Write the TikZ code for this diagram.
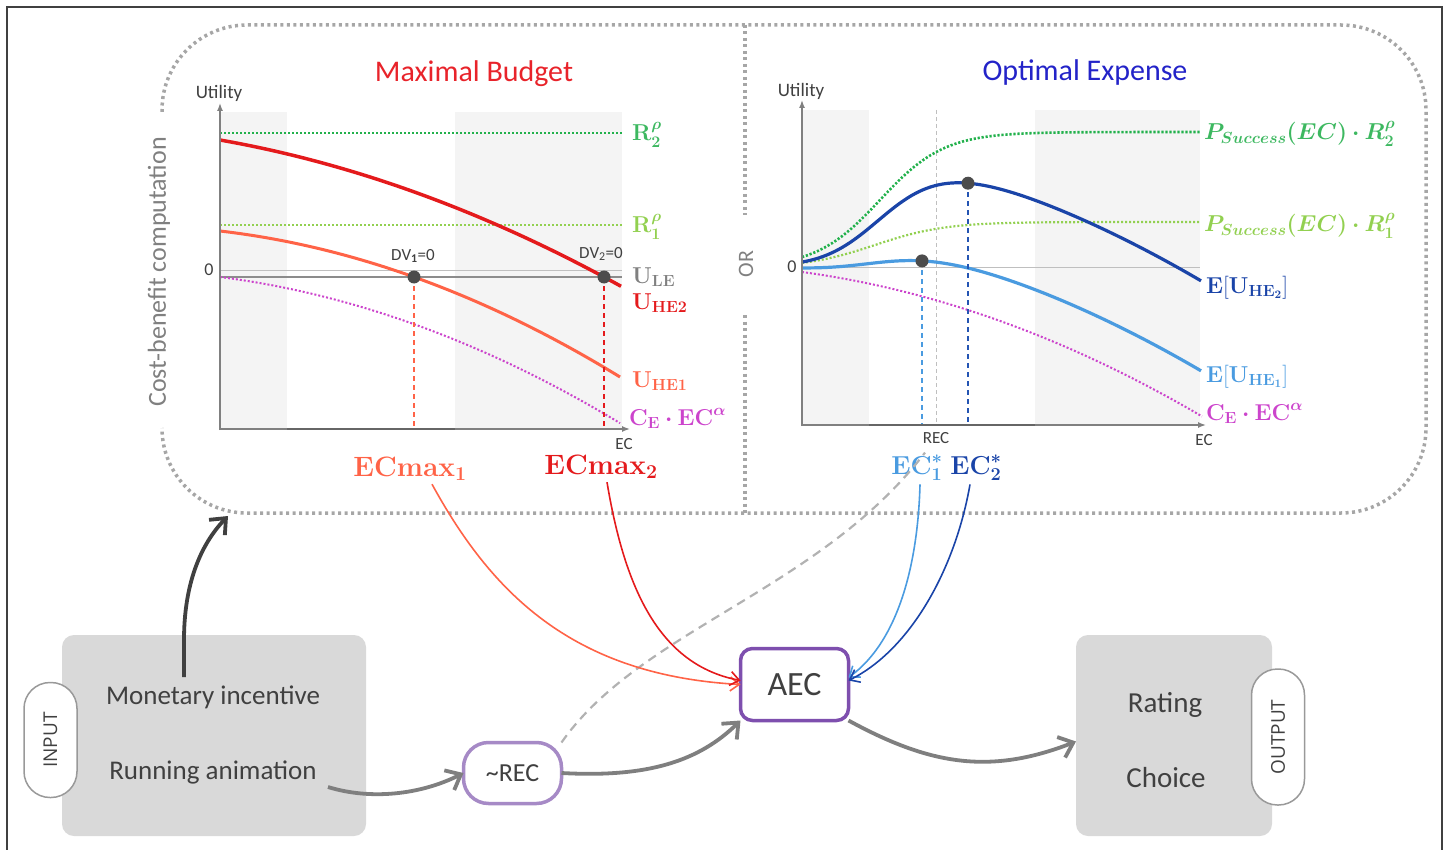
\RequirePackage{fix-cm}
\documentclass[tikz,border=0pt]{standalone}
\usepackage[no-math]{fontspec}
\setmainfont{Carlito}
\newfontfamily\osans{Open Sans}
\usepackage{amsmath,bm}
\usetikzlibrary{arrows.meta}
\definecolor{cRed}{HTML}{E41A1C}
\definecolor{cTitleRed}{HTML}{E8232A}
\definecolor{cOrange}{HTML}{FF6347}
\definecolor{cGreen}{HTML}{22B14C}
\definecolor{cGreenL}{HTML}{3DB860}
\definecolor{cLGreen}{HTML}{92D050}
\definecolor{cMag}{HTML}{CC44CC}
\definecolor{cDBlue}{HTML}{1A44A8}
\definecolor{cLBlue}{HTML}{4A9BE0}
\definecolor{cTitleBlue}{HTML}{2323C8}
\definecolor{cPurple}{HTML}{7E4FAE}
\definecolor{cLPurple}{HTML}{A68AC6}
\definecolor{cBox}{HTML}{D9D9D9}
\definecolor{cTxt}{HTML}{404040}
\definecolor{cAxis}{HTML}{808080}
\definecolor{cDot}{HTML}{A6A6A6}
\definecolor{cShade}{HTML}{F4F4F4}
\definecolor{cDark}{HTML}{404040}
\definecolor{cArr}{HTML}{7F7F7F}
\definecolor{cFrame}{HTML}{404040}
\newcommand\fsz[1]{\fontsize{#1}{#1}\selectfont}
\newcommand\lblR[1]{$\mathbf{R}_{\mathbf{#1}}^{\bm{\rho}}$}
\newcommand\lblU[1]{$\mathbf{U}_{\mathbf{#1}}$}
\newcommand\lblC{$\mathbf{C}_{\mathbf{E}}\bm{\cdot}\mathbf{EC}^{\bm{\alpha}}$}
\newcommand\lblP[1]{$\bm{P_{Success}(EC)\cdot R_{#1}^{\rho}}$}
\newcommand\lblEU[1]{$\mathbf{E}[\mathbf{U}_{\mathbf{HE}_{\mathbf{#1}}}]$}
\newcommand\lblEC[1]{$\mathbf{ECmax}_{\mathbf{#1}}$}
\newcommand\lblES[1]{$\mathbf{EC}_{\mathbf{#1}}^{\bm{*}}$}
\begin{document}
\begin{tikzpicture}[x=1pt,y=-1pt,
  every node/.style={inner sep=0pt,outer sep=0pt},
  declare function={
    gR(\x)=132+136/(1+exp(min((\x-880)/32,9)));
    lR(\x)=222+46/(1+exp(min((\x-875)/35,9)));
    cR(\x)=272+0.1355*(\x-802)+(0.02375*(\x-802))^2;},
  axisline/.style={draw=cAxis,line width=1.4pt,-{Latex[length=8pt,width=6pt]}},
  region/.style={draw=cDot,line width=3.5pt,dash pattern=on 3pt off 3.5pt},
  gdot/.style={draw=cGreen,line width=2.6pt,dash pattern=on 2.2pt off 1.8pt},
  lgdot/.style={draw=cLGreen,line width=2.2pt,dash pattern=on 2pt off 2pt},
  mdot/.style={draw=cMag,line width=2pt,dash pattern=on 2pt off 2pt},
  zeroline/.style={draw=black!25,line width=1pt},
  vdash/.style={line width=1.4pt,dash pattern=on 5pt off 4pt},
  dvdot/.style={fill=black!70},
  axlabel/.style={text=cTxt,font=\fsz{19}},
  mlabel/.style={anchor=base west,font=\fsz{23}},
  biglabel/.style={anchor=base,font=\fsz{28}},
  graybox/.style={fill=cBox,rounded corners=12pt,minimum width=#1},
  pill/.style={draw=black!40,fill=white,line width=1.5pt,rounded corners=26pt,minimum width=53pt},
  boxtext/.style={text=cTxt,font=\fsz{27}},
  thinarrow/.style={line width=1.6pt,-{Straight Barb[length=9pt,width=14pt,line width=1.6pt]}},
  bigarrow/.style={line width=3.8pt,-{Straight Barb[length=13pt,width=22pt,line width=3.8pt]}}
]
\useasboundingbox (0,0) rectangle (1447,850);
% outer frame
\draw[draw=cFrame,line width=1.3pt] (7,852) -- (7,7) -- (1442,7) -- (1442,852);
% dotted region
\draw[region,rounded corners=85pt] (162,112) -- (162,25) -- (1426,25) -- (1426,513) -- (162,513) -- (162,428);
\draw[region] (745,25) -- (745,215);
\draw[region] (745,315) -- (745,513);
\node[rotate=90,text=cAxis,font=\fsz{26}] (cbc) at (159,272) {Cost-benefit computation};
\node[rotate=90,text=cAxis,font=\fsz{22}] (orlab) at (746,264) {OR};

% ===== left plot =====
\fill[cShade] (220,112) rectangle (287,429);
\fill[cShade] (455,112) rectangle (622,429);
\draw[gdot] (220,133) -- (622,133);
\draw[lgdot] (220,225) -- (622,225);
\draw[zeroline] (220,270) -- (622,270);
\draw[draw=black!45,line width=2.5pt] (220,277) -- (622,277);
\draw[mdot] plot[domain=220:620,samples=60] (\x,{277+0.128*(\x-220)+(0.02435*(\x-220))^2});
\draw[draw=cOrange,line width=3pt] plot[domain=220:620,samples=60] (\x,{231+0.1166*(\x-220)+(0.02492*(\x-220))^2});
\draw[draw=cRed,line width=3.5pt] plot[domain=220:621,samples=60] (\x,{140+0.176*(\x-220)+(0.0217*(\x-220))^2});
\draw[draw=cOrange,vdash] (414,277) -- (414,429);
\draw[draw=cRed,vdash] (604,277) -- (604,429);
\draw[axisline] (220,429) -- (630,429);
\draw[axisline] (220,430) -- (220,103);
\draw[draw=black!60,line width=2pt] (287,429) -- (455,429);
\fill[dvdot] (414,277) circle (6.5pt);
\fill[dvdot] (604,277) circle (6.5pt);
\node[axlabel] (utilL) at (219,93) {Utility};
\node[axlabel,font=\fsz{18}] (zeroL) at (209,270) {0};
\node[axlabel,font=\fsz{17}] (ecL) at (624,444) {EC};
\node[text=cTxt,font=\fsz{17}] (dv1) at (413,256) {DV\textsubscript{\textbf{1}}=0};
\node[text=cTxt,font=\fsz{17}] (dv2) at (601,254) {DV\textsubscript{2}=0};
\node[text=cTitleRed,font=\fsz{30}] (titleL) at (474,74) {Maximal Budget};
\node[mlabel,text=cGreenL] (r2L) at (632,141) {\lblR{2}};
\node[mlabel,text=cLGreen] (r1L) at (632,233) {\lblR{1}};
\node[mlabel,text=cAxis] (uleL) at (632,283) {\lblU{LE}};
\node[mlabel,text=cRed] (uhe2L) at (632,309) {\lblU{HE2}};
\node[mlabel,text=cOrange] (uhe1L) at (632,387) {\lblU{HE1}};
\node[mlabel,text=cMag] (ceL) at (629,425) {\lblC};
\node[biglabel,text=cOrange] (ecmaxA) at (410,476) {\lblEC{1}};
\node[biglabel,text=cRed] (ecmaxB) at (601,474) {\lblEC{2}};

% ===== right plot =====
\fill[cShade] (802,110) rectangle (869,425);
\fill[cShade] (1035,110) rectangle (1200,425);
\draw[zeroline] (802,267) -- (1200,267);
\draw[draw=black!25,line width=1pt,dash pattern=on 4pt off 3pt] (936,110) -- (936,425);
\draw[gdot] plot[domain=802:1200,samples=100] (\x,{gR(\x)});
\draw[lgdot] plot[domain=802:1200,samples=100] (\x,{lR(\x)});
\draw[mdot] plot[domain=802:1202,samples=80] (\x,{cR(\x)});
\draw[draw=cLBlue,line width=3.2pt] plot[domain=802:1201,samples=100] (\x,{lR(\x)+cR(\x)-267});
\draw[draw=cDBlue,line width=3.2pt] plot[domain=802:1201,samples=100] (\x,{gR(\x)+cR(\x)-267});
\draw[draw=cLBlue,vdash] (922,{lR(922)+cR(922)-267}) -- (922,425);
\draw[draw=cDBlue!80!cLBlue,vdash] (968,{gR(968)+cR(968)-267}) -- (968,425);
\draw[axisline] (802,425) -- (1206,425);
\draw[axisline] (802,426) -- (802,100);
\draw[draw=black!60,line width=2pt] (869,425) -- (1035,425);
\fill[dvdot] (922,{lR(922)+cR(922)-267}) circle (6.5pt);
\fill[dvdot] (968,{gR(968)+cR(968)-267}) circle (6.5pt);
\node[axlabel] (utilR) at (801,91) {Utility};
\node[axlabel,font=\fsz{18}] (zeroR) at (792,267) {0};
\node[axlabel,font=\fsz{17}] (ecR) at (1204,440) {EC};
\node[axlabel,font=\fsz{17}] (recR) at (936,438) {REC};
\node[text=cTitleBlue,font=\fsz{30}] (titleR) at (1085,73) {Optimal Expense};
\node[mlabel,text=cGreenL] (p2R) at (1204,140) {\lblP{2}};
\node[mlabel,text=cLGreen] (p1R) at (1204,232) {\lblP{1}};
\node[mlabel,text=cDBlue] (eu2R) at (1206,293) {\lblEU{2}};
\node[mlabel,text=cLBlue] (eu1R) at (1206,382) {\lblEU{1}};
\node[mlabel,text=cMag] (ceR) at (1206,420) {\lblC};
\node[biglabel,text=cLBlue,font=\fsz{26}] (ecs1) at (917,474) {\lblES{1}};
\node[biglabel,text=cDBlue,font=\fsz{26}] (ecs2) at (976,474) {\lblES{2}};

% ===== bottom flow =====
\node[graybox=304pt,minimum height=201pt] (inbox) at (214,735.5) {};
\node[graybox=196pt,minimum height=201pt] (outbox) at (1174,735.5) {};
\node[pill,minimum height=115pt] (inpill) at (50.5,740) {};
\node[rotate=90,text=cTxt,font=\osans\fsz{19}] (inlab) at (inpill) {INPUT};
\node[pill,minimum height=136pt] (outpill) at (1278,737) {};
\node[rotate=90,text=cTxt,font=\osans\fsz{19}] (outlab) at (outpill) {OUTPUT};
\node[boxtext] (mon) at (213,697) {Monetary incentive};
\node[boxtext] (run) at (213,772) {Running animation};
\node[boxtext,font=\fsz{29}] (rating) at (1165,705) {Rating};
\node[boxtext,font=\fsz{29}] (choice) at (1166,778) {Choice};
\node[draw=cPurple,fill=white,line width=3.5pt,rounded corners=12pt,minimum width=108pt,minimum height=72pt,text=cTxt,font=\fsz{34}] (aec) at (794.5,684.5) {AEC};
\node[draw=cLPurple,fill=white,line width=3.5pt,rounded corners=25pt,minimum width=98pt,minimum height=61pt,text=cTxt,font=\fsz{26}] (rec) at (512.5,773) {\textasciitilde REC};

\coordinate (monStart) at (184,677);
\coordinate (regCorner) at (228,516);
\coordinate (runEnd) at (328,787);
\draw[bigarrow,draw=cDark] (monStart) -- (184,640) .. controls (184,585) and (200,545) .. (regCorner);
\draw[bigarrow,draw=cArr] (runEnd) .. controls (370,800) and (420,795) .. (rec.west);
\draw[bigarrow,draw=cArr] (rec.east) .. controls (650,778) and (700,760) .. (aec.south west);
\draw[bigarrow,draw=cArr] (aec.south east) .. controls (930,765) and (990,775) .. ([yshift=-6pt]outbox.west);
\draw[draw=black!30,line width=2.2pt,dash pattern=on 9pt off 6pt] (rec.north east) .. controls (640,630) and (820,590) .. ([xshift=8pt,yshift=2pt]ecs1.north);
\draw[thinarrow,draw=cOrange] ([xshift=22pt,yshift=-4pt]ecmaxA.south) .. controls (490,590) and (570,675) .. (aec.west);
\draw[thinarrow,draw=cRed] ([xshift=6pt,yshift=-4pt]ecmaxB.south) .. controls (625,590) and (660,665) .. ([yshift=4pt]aec.west);
\draw[thinarrow,draw=cLBlue] ([xshift=3pt,yshift=-4pt]ecs1.south) .. controls (918,560) and (900,640) .. ([yshift=7pt]aec.east);
\draw[thinarrow,draw=cDBlue] ([xshift=-6pt,yshift=-4pt]ecs2.south) .. controls (955,570) and (910,650) .. ([yshift=4pt]aec.east);
\end{tikzpicture}
\end{document}
